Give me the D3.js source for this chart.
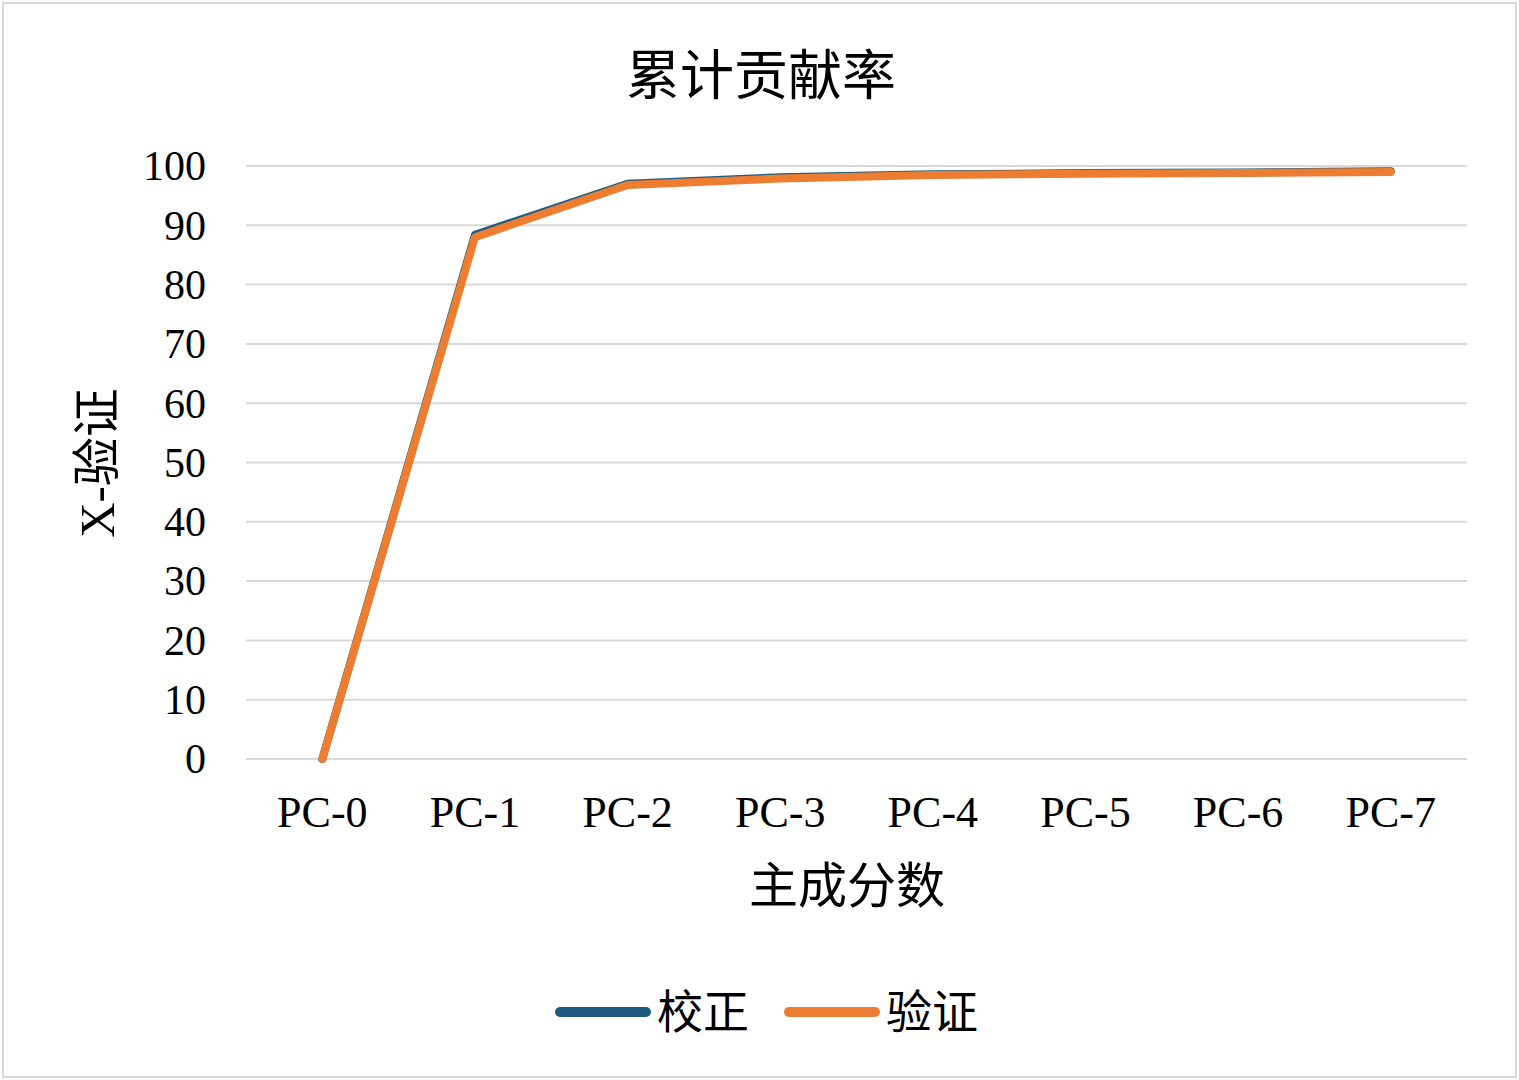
<!DOCTYPE html>
<meta charset="utf-8">
<style>
    html, body {
        margin: 0;
        padding: 0;
        background: #fff;
    }
    svg text {
        font-family: "Liberation Serif", "Noto Sans CJK SC", serif;
        fill: #000;
    }
    .grid line {
        stroke: #d9d9d9;
        stroke-width: 2px;
    }
</style>
<body>
<svg id="chart" width="1519" height="1080"></svg>
<script src="https://cdn.jsdelivr.net/npm/d3@7"></script>
<script>
    // data
    var categories = ["PC-0", "PC-1", "PC-2", "PC-3", "PC-4", "PC-5", "PC-6", "PC-7"];
    var calib = [0, 88.4, 97.0, 98.1, 98.6, 98.8, 98.9, 99.1];   // 校正
    var valid = [0, 88.0, 96.8, 97.9, 98.5, 98.7, 98.8, 99.0];   // 验证
    var yTicks = [0, 10, 20, 30, 40, 50, 60, 70, 80, 90, 100];
    var seriesNames = ["校正", "验证"];
    var colors = ["#1f5b7e", "#ed7d31"];

    var svg = d3.select("#chart");

    // outer frame
    svg.append("rect")
        .attr("x", 3).attr("y", 3)
        .attr("width", 1513).attr("height", 1074)
        .attr("fill", "none")
        .attr("stroke", "#d9d9d9")
        .attr("stroke-width", 2);

    var plotLeft = 246, plotRight = 1467, plotTop = 166, plotBottom = 759;

    var x = d3.scaleBand().domain(categories).range([plotLeft, plotRight]);
    var y = d3.scaleLinear().domain([0, 100]).range([plotBottom, plotTop]);

    // gridlines
    svg.append("g")
        .attr("class", "grid")
        .selectAll("line")
        .data(yTicks)
        .enter().append("line")
        .attr("x1", plotLeft).attr("x2", plotRight)
        .attr("y1", function(d) { return y(d); })
        .attr("y2", function(d) { return y(d); });

    // y axis labels
    var yAxis = d3.axisLeft(y).tickValues(yTicks).tickSize(0).tickPadding(40);
    var gy = svg.append("g")
        .attr("transform", "translate(" + plotLeft + ",0)")
        .call(yAxis);
    gy.select(".domain").remove();
    gy.selectAll("text")
        .style("font-size", "42px")
        .attr("dy", "0.33em");

    // x axis labels
    var xAxis = d3.axisBottom(x).tickSize(0);
    var gx = svg.append("g")
        .attr("transform", "translate(0," + plotBottom + ")")
        .call(xAxis);
    gx.select(".domain").remove();
    gx.selectAll("text")
        .style("font-size", "44px")
        .attr("y", 68)
        .attr("dy", 0);

    // lines
    var line = d3.line()
        .x(function(d, i) { return x(categories[i]) + x.bandwidth() / 2; })
        .y(function(d) { return y(d); });

    [calib, valid].forEach(function(s, k) {
        svg.append("path")
            .datum(s)
            .attr("fill", "none")
            .attr("stroke", colors[k])
            .attr("stroke-width", 8)
            .attr("stroke-linecap", "round")
            .attr("stroke-linejoin", "round")
            .attr("d", line);
    });

    // title
    svg.append("text")
        .attr("x", 761).attr("y", 95)
        .attr("text-anchor", "middle")
        .style("font-size", "54px")
        .text("累计贡献率");

    // axis titles
    svg.append("text")
        .attr("x", 847).attr("y", 903)
        .attr("text-anchor", "middle")
        .style("font-size", "49px")
        .text("主成分数");

    svg.append("text")
        .attr("transform", "translate(114,463) rotate(-90)")
        .attr("text-anchor", "middle")
        .style("font-size", "49px")
        .text("X-验证");

    // legend
    var legendX = [558, 787];
    seriesNames.forEach(function(name, k) {
        var g = svg.append("g").attr("transform", "translate(" + legendX[k] + ",1012)");
        g.append("line")
            .attr("x1", 2).attr("x2", 88)
            .attr("y1", 0).attr("y2", 0)
            .attr("stroke", colors[k])
            .attr("stroke-width", 10)
            .attr("stroke-linecap", "round");
        g.append("text")
            .attr("x", 99).attr("y", 16)
            .style("font-size", "46px")
            .text(name);
    });
</script>
</body>
